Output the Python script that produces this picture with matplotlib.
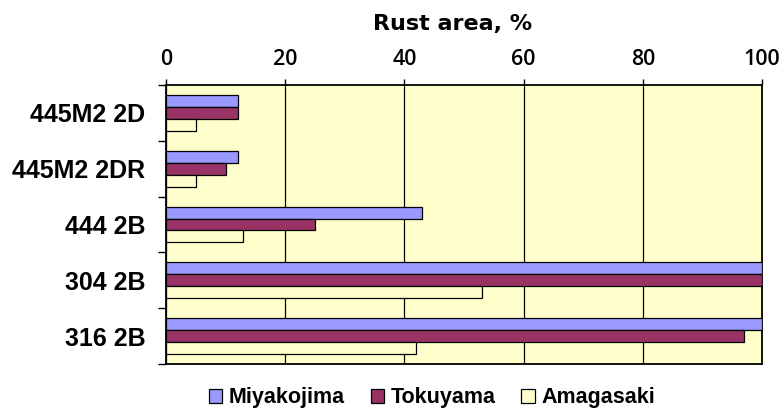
import matplotlib
matplotlib.use("Agg")
import matplotlib.pyplot as plt
import numpy as np

categories = ["445M2 2D", "445M2 2DR", "444 2B", "304 2B", "316 2B"]
series_names = ["Miyakojima", "Tokuyama", "Amagasaki"]
miyakojima = [12, 12, 43, 100, 100]
tokuyama = [12, 10, 25, 100, 97]
amagasaki = [5, 5, 13, 53, 42]
x_ticks = [0, 20, 40, 60, 80, 100]
colors = ["#9999FF", "#993366", "#FFFFCC"]

fig = plt.figure(figsize=(7.8, 4.09), dpi=100)
ax = fig.add_axes([166/780, 1-364/409, (762-166)/780, (364-85)/409])
ax.set_facecolor("#FFFFCC")

y = np.arange(len(categories))
h = 0.215
for i, (vals, c, name) in enumerate(zip([miyakojima, tokuyama, amagasaki], colors, series_names)):
    ax.barh(y + (i - 1) * h, vals, height=h, color=c, edgecolor="black",
            linewidth=0.9, label=name, zorder=3)

ax.set_xlim(0, 100)
ax.set_ylim(len(categories) - 0.5, -0.5)
ax.set_xticks(x_ticks)
ax.xaxis.tick_top()
ax.tick_params(axis="x", direction="out", length=4.5, width=1, pad=6.5,
               labelsize=15.5, top=True, bottom=False)
for lab in ax.get_xticklabels():
    lab.set_fontfamily("Open Sans")
    lab.set_fontweight("semibold")
ax.grid(axis="x", color="black", linewidth=0.9, zorder=1)
ax.set_axisbelow(True)

ax.set_yticks(y)
ax.set_yticklabels(categories, fontsize=18, fontweight="bold", fontfamily="Liberation Sans")
ax.set_yticks(np.arange(-0.5, len(categories), 1), minor=True)
ax.tick_params(axis="y", which="major", length=0, pad=15)
ax.tick_params(axis="y", which="minor", length=5.5, width=1, direction="out")

for s in ax.spines.values():
    s.set_linewidth(1.3)
    s.set_color("black")

fig.text(452.5/780, 1-30/409, "Rust area, %", ha="center", va="baseline",
         fontsize=16, fontweight="bold", fontfamily="DejaVu Sans")

leg = fig.legend(loc="center", bbox_to_anchor=(432/780, 1-398/409), ncol=3,
                 frameon=False, handlelength=0.62, handleheight=0.62,
                 handletextpad=0.3, columnspacing=1.2,
                 prop={"family": "Liberation Sans", "weight": "bold", "size": 15.5})

fig.savefig("out.png", dpi=100, facecolor="white")
